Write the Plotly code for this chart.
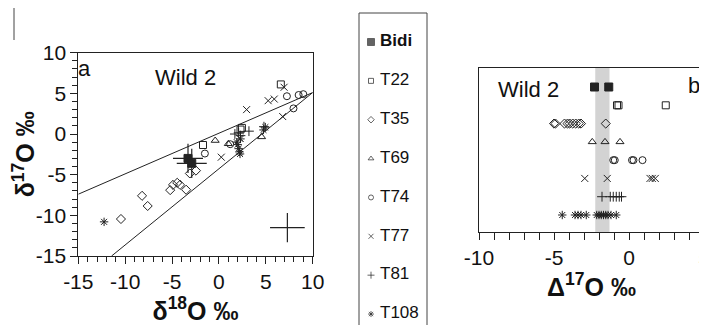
import plotly.graph_objects as go

W, H = 707, 325
OFF = 8  # page body margin that offsets the figure inside the window
FONT = "Liberation Sans"
INK = "#222222"

# ---------------- data ----------------
series = ["Bidi", "T22", "T35", "T69", "T74", "T77", "T81", "T108"]
symbols = {"Bidi": "square", "T22": "square-open", "T35": "diamond-open",
           "T69": "triangle-up-open", "T74": "circle-open", "T77": "x-thin-open",
           "T81": "cross-thin-open", "T108": "asterisk-open"}

# panel a: d18O, d17O
bidi_d18 = [-3.3, -2.9]
bidi_d17 = [-3.0, -3.6]
bidi_err18 = [1.6, 1.6]
bidi_err17 = [1.8, 1.8]
t22_d18 = [-1.7, 2.3, 2.45, 6.6]
t22_d17 = [-1.35, 0.55, 0.75, 6.1]
t35_d18 = [-10.45, -8.2, -7.6, -5.2, -4.9, -4.45, -4.15, -3.5, -3.1, -2.45]
t35_d17 = [-10.45, -7.6, -8.85, -6.9, -6.25, -6.0, -6.25, -6.85, -4.85, -4.5]
t69_d18 = [-0.4, 1.0, 4.55]
t69_d17 = [-0.8, -1.2, -0.35]
t74_d18 = [-1.5, 1.2, 7.25, 7.95, 8.5, 9.0]
t74_d17 = [-2.4, -1.25, 4.65, 3.15, 4.8, 4.9]
t77_d18 = [0.25, 2.95, 5.25, 5.9, 6.95, 6.8, 2.2]
t77_d17 = [-2.85, 3.0, 4.1, 4.3, 5.75, 2.15, -0.5]
t81_d18 = [1.7, 2.1, 2.3, 3.2, 4.8]
t81_d17 = [0.0, 0.15, -0.2, 0.35, 0.9]
t108_d18 = [-12.25, 2.0, 2.1, 2.2, 2.25, 1.9, 4.75, 4.95, 2.3]
t108_d17 = [-10.8, -1.3, -1.8, -2.2, -2.45, -1.0, 0.5, 0.85, -0.6]

# reference lines (TF and CCAM) endpoints
tf_d18 = [-15, 10]
tf_d17 = [-7.4, 5.1]
ccam_d18 = [-11.45, 10]
ccam_d17 = [-15, 5.1]

# typical error cross
typ_d18 = [7.3]
typ_d17 = [-11.5]
typ_err18 = [1.85]
typ_err17 = [1.8]

# panel b: D17O
bidi_D17 = [-2.3, -1.35]
t22_D17 = [-0.8, -0.7, 2.45]
t35_D17 = [-5.0, -4.9, -4.3, -4.1, -3.95, -3.75, -3.55, -3.35, -3.2, -1.55]
t69_D17 = [-2.45, -1.6, -0.6]
t74_D17 = [-1.05, -0.95, 0.2, 0.3, 0.9]
t77_D17 = [-2.95, -1.45, 1.4, 1.55, 1.75]
t81_D17 = [-1.8, -1.25, -1.05, -0.85, -0.65, -0.5]
t108_D17 = [-4.45, -3.6, -3.4, -3.2, -2.85, -2.15, -2.0, -1.85, -1.7, -1.55, -1.4, -1.2, -0.85]
band_D17 = [-2.25, -1.3]

a_ticks = [-15, -10, -5, 0, 5, 10]
a_ticktext = ["-15", "-10", "-5", "0", "5", "10"]
b_ticks = [-10, -5, 0, 5]
b_ticktext = ["-10", "-5", "0", "5"]

panel_a = {"Bidi": (bidi_d18, bidi_d17), "T22": (t22_d18, t22_d17), "T35": (t35_d18, t35_d17),
           "T69": (t69_d18, t69_d17), "T74": (t74_d18, t74_d17), "T77": (t77_d18, t77_d17),
           "T81": (t81_d18, t81_d17), "T108": (t108_d18, t108_d17)}
panel_b = {"Bidi": bidi_D17, "T22": t22_D17, "T35": t35_D17, "T69": t69_D17,
           "T74": t74_D17, "T77": t77_D17, "T81": t81_D17, "T108": t108_D17}

# ---------------- figure ----------------
fig = go.Figure()

def px2fx(p):
    return (p - OFF) / W

def px2fy(p):
    return 1 - (p - OFF) / H

# lines
fig.add_trace(go.Scatter(x=tf_d18, y=tf_d17, mode="lines", line=dict(color=INK, width=1),
                         xaxis="x", yaxis="y", showlegend=False, hoverinfo="skip"))
fig.add_trace(go.Scatter(x=ccam_d18, y=ccam_d17, mode="lines", line=dict(color=INK, width=1),
                         xaxis="x", yaxis="y", showlegend=False, hoverinfo="skip"))
# typical error
fig.add_trace(go.Scatter(x=typ_d18, y=typ_d17, mode="markers",
                         marker=dict(size=1, color="rgba(0,0,0,0)"),
                         error_x=dict(type="data", array=typ_err18, width=0, thickness=1.2, color=INK),
                         error_y=dict(type="data", array=typ_err17, width=0, thickness=1.2, color=INK),
                         xaxis="x", yaxis="y", showlegend=False, hoverinfo="skip"))

for name in series:
    xs, ys = panel_a[name]
    filled = name == "Bidi"
    mk = dict(symbol=symbols[name], size=8 if filled else 7,
              color=INK, line=dict(color=INK, width=1))
    kw = {}
    if filled:
        kw["error_x"] = dict(type="data", array=bidi_err18, width=0, thickness=1.2, color=INK)
        kw["error_y"] = dict(type="data", array=bidi_err17, width=0, thickness=1.2, color=INK)
    fig.add_trace(go.Scatter(x=xs, y=ys, mode="markers", marker=mk, name=name,
                             xaxis="x", yaxis="y", showlegend=False, **kw))

for name in series:
    vals = panel_b[name]
    filled = name == "Bidi"
    mk = dict(symbol=symbols[name], size=8 if filled else 7,
              color=INK, line=dict(color=INK, width=1))
    fig.add_trace(go.Scatter(x=vals, y=[name] * len(vals), mode="markers", marker=mk, name=name,
                             xaxis="x2", yaxis="y2", showlegend=False))

# legend drawn as a small panel
leg_text = ["<b>Bidi</b>" if s == "Bidi" else s for s in series]
leg_sizes = [7 if s == "Bidi" else 5 for s in series]
fig.add_trace(go.Scatter(x=[12] * len(series), y=series, mode="markers",
                         marker=dict(symbol=[symbols[s] for s in series], size=leg_sizes,
                                     color=INK, line=dict(color=INK, width=1)),
                         xaxis="x3", yaxis="y3", showlegend=False, hoverinfo="skip"))
fig.add_trace(go.Scatter(x=[21] * len(series), y=series, mode="text",
                         text=leg_text, textposition="middle right",
                         textfont=dict(family=FONT, size=17, color="#111"),
                         xaxis="x3", yaxis="y3", showlegend=False, hoverinfo="skip"))

# geometry (window pixels)
ax_l, ax_r, ax_t, ax_b = 78.3, 312.7, 52.7, 256
bx_l, bx_r, bx_t, bx_b = 479, 704, 68, 232
lg_l, lg_r = 359, 427

tickfont = dict(family=FONT, size=21, color="#111")
titlefont = dict(family=FONT, size=25, color="#111", weight="bold")

fig.update_layout(
    width=W, height=H, margin=dict(l=0, r=0, t=0, b=0),
    paper_bgcolor="white", plot_bgcolor="white", showlegend=False,
    xaxis=dict(domain=[px2fx(ax_l), px2fx(ax_r)], range=[-15, 10], anchor="y",
               tickvals=a_ticks, ticktext=a_ticktext, ticks="outside", ticklen=7,
               tickcolor=INK, showline=True, linecolor=INK, mirror=True, linewidth=1,
               showgrid=False, zeroline=False, tickfont=tickfont,
               minor=dict(dtick=1, ticks="outside", ticklen=5, tickcolor=INK, showgrid=False),
               title=dict(text="δ<sup>18</sup>O ‰", font=titlefont, standoff=2),
               automargin=False),
    yaxis=dict(domain=[px2fy(ax_b), px2fy(ax_t)], range=[-15, 10], anchor="x",
               tickvals=a_ticks, ticktext=a_ticktext, ticks="outside", ticklen=7,
               tickcolor=INK, showline=True, linecolor=INK, mirror=True, linewidth=1,
               showgrid=False, zeroline=False, tickfont=tickfont,
               minor=dict(dtick=1, ticks="outside", ticklen=5, tickcolor=INK, showgrid=False),
               title=dict(text="δ<sup>17</sup>O ‰", font=titlefont, standoff=2),
               automargin=False),
    xaxis2=dict(domain=[px2fx(bx_l), px2fx(bx_r)], range=[-10, 5], anchor="y2",
                tickvals=b_ticks, ticktext=b_ticktext, ticks="outside", ticklen=7,
                tickcolor=INK, showline=True, linecolor=INK, mirror=True, linewidth=1,
                showgrid=False, zeroline=False, tickfont=tickfont,
                minor=dict(dtick=1, ticks="outside", ticklen=7, tickcolor=INK, showgrid=False),
                title=dict(text="Δ<sup>17</sup>O ‰", font=titlefont, standoff=2),
                automargin=False),
    yaxis2=dict(domain=[px2fy(bx_b), px2fy(bx_t)], type="category", categoryorder="array",
                categoryarray=series, range=[7.93, -1.04], anchor="x2",
                showticklabels=False, ticks="", showline=True, linecolor=INK, mirror=True,
                linewidth=1, showgrid=False, zeroline=False, automargin=False),
    xaxis3=dict(domain=[px2fx(lg_l), px2fx(lg_r)], range=[0, lg_r - lg_l], anchor="y3",
                visible=False),
    yaxis3=dict(domain=[px2fy(325 + OFF), 1], type="category", categoryorder="array",
                categoryarray=series, range=[7.488, -0.875], anchor="x3", visible=False),
    shapes=[
        dict(type="rect", xref="x2", yref="y2 domain", x0=band_D17[0], x1=band_D17[1],
             y0=0, y1=1, fillcolor="#d3d3d3", line=dict(width=0), layer="below"),
        dict(type="rect", xref="paper", yref="paper", x0=px2fx(lg_l), x1=px2fx(lg_r),
             y0=-0.1, y1=px2fy(13), line=dict(color="#444", width=1), fillcolor="rgba(0,0,0,0)"),
        dict(type="line", xref="paper", yref="paper", x0=px2fx(14), x1=px2fx(14),
             y0=px2fy(OFF), y1=px2fy(40), line=dict(color="#444", width=1)),
    ],
    annotations=[
        dict(text="a", x=-14.3, y=8.1, xref="x", yref="y", showarrow=False,
             font=dict(family=FONT, size=22, color="#111")),
        dict(text="Wild 2", x=-3.6, y=6.9, xref="x", yref="y", showarrow=False,
             font=dict(family=FONT, size=22, color="#111")),
        dict(text="Wild 2", x=-6.73, y=0.11, xref="x2", yref="y2", showarrow=False,
             font=dict(family=FONT, size=22, color="#111")),
        dict(text="b", x=4.33, y=-0.06, xref="x2", yref="y2", showarrow=False,
             font=dict(family=FONT, size=22, color="#111")),
    ],
)

fig.write_html("out.html")
